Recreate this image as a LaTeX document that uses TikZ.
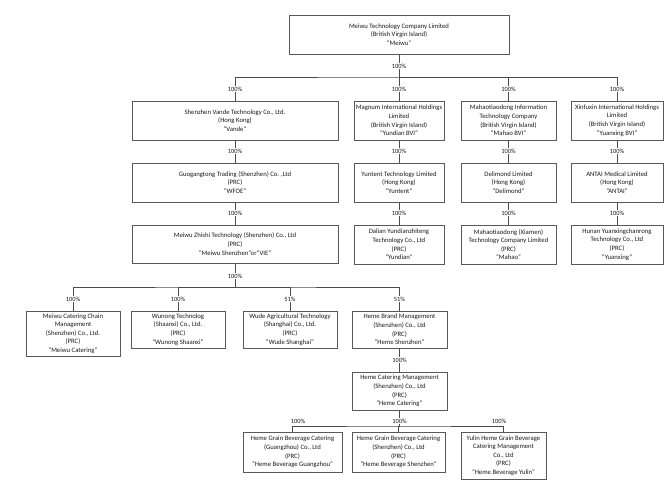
\documentclass[tikz,border=0pt]{standalone}
\usepackage{fontspec}
\setmainfont{Carlito}
\begin{document}
\begin{tikzpicture}[x=1pt,y=-1pt,
  box/.style={draw=black!65, line width=0.8pt, inner sep=0pt, align=center,
    font=\fontsize{6.7}{8.6}\selectfont, text=black!90},
  conn/.style={draw=black!70, line width=0.8pt},
  pct/.style={fill=white, inner sep=0.4pt, font=\fontsize{6.4}{7}\selectfont, text=black!90}]
\useasboundingbox (0,0) rectangle (670,487);
\newcommand{\bx}[6]{\node[box, minimum width={#3-#2}, minimum height={#5-#4}] (#1) at ({(#2+#3)/2},{(#4+#5)/2}) {#6};}
% boxes
\bx{top}{289}{509}{15}{54}{Meiwu Technology Company Limited\\(British Virgin Island)\\"Meiwu"}
\bx{vande}{132}{338}{101}{140}{Shenzhen Vande Technology Co., Ltd.\\(Hong Kong)\\"Vande"}
\bx{magnum}{354}{444}{101}{140}{Magnum International Holdings\\Limited\\(British Virgin Island)\\"Yundian BVI"}
\bx{mahaobvi}{461}{556}{101}{140}{Mahaotiaodong Information\\Technology Company\\(British Virgin Island)\\"Mahao BVI"}
\bx{xinfuxin}{571}{663}{101}{140}{Xinfuxin International Holdings\\Limited\\(British Virgin Island)\\"Yuanxing BVI"}
\bx{wfoe}{132}{338}{163}{202}{Guogangtong Trading (Shenzhen) Co. ,Ltd\\(PRC)\\"WFOE"}
\bx{yuntent}{354}{444}{163}{202}{Yuntent Technology Limited\\(Hong Kong)\\"Yuntent"}
\bx{delimond}{461}{556}{163}{202}{Delimond Limited\\(Hong Kong)\\"Delimond"}
\bx{antai}{571}{663}{163}{202}{ANTAI Medical Limited\\(Hong Kong)\\"ANTAI"}
\bx{vie}{132}{338}{225}{263}{Meiwu Zhishi Technology (Shenzhen) Co., Ltd\\(PRC)\\"Meiwu Shenzhen"or"VIE"}
\bx{yundian}{354}{444}{225}{264}{Dalian Yundianzhiteng\\Technology Co., Ltd\\(PRC)\\"Yundian"}
\bx{mahao}{461}{556}{225}{264}{Mahaotiaodong (Xiamen)\\Technology Company Limited\\(PRC)\\"Mahao"}
\bx{yuanxing}{571}{663}{225}{264}{Hunan Yuanxingchanrong\\Technology Co., Ltd\\(PRC)\\"Yuanxing"}
\bx{catering}{26}{120}{311}{356}{Meiwu Catering Chain\\Management\\(Shenzhen) Co., Ltd.\\(PRC)\\"Meiwu Catering"}
\bx{wunong}{131}{225}{311}{348}{Wunong Technolog\\(Shaanxi) Co., Ltd.\\(PRC)\\"Wunong Shaanxi"}
\bx{wude}{243}{337}{311}{348}{Wude Agricultural Technology\\(Shanghai) Co., Ltd.\\(PRC)\\"Wude Shanghai"}
\bx{hemesz}{352}{447}{311}{348}{Heme Brand Management\\(Shenzhen) Co., Ltd\\(PRC)\\"Heme Shenzhen"}
\bx{hemecat}{352}{447}{372}{410}{Heme Catering Management\\(Shenzhen) Co., Ltd\\(PRC)\\"Heme Catering"}
\bx{gz}{243}{342}{432}{472}{Heme Grain Beverage Catering\\(Guangzhou) Co., Ltd\\(PRC)\\"Heme Beverage Guangzhou"}
\bx{bsz}{352}{445}{432}{472}{Heme Grain Beverage Catering\\(Shenzhen) Co., Ltd\\(PRC)\\"Heme Beverage Shenzhen"}
\bx{yulin}{461}{546}{432}{479}{Yulin Heme Grain Beverage\\Catering Management\\Co., Ltd\\(PRC)\\"Heme Beverage Yulin"}
% junctions
\coordinate (j1) at (399,77);
\coordinate (j2) at (235,287);
\coordinate (j3) at (399.5,426);
% connectors
\draw[conn] (top.south) -- (j1);
\draw[conn] (vande.north) |- (j1) -| (xinfuxin.north);
\draw[conn] (j1) -| (magnum.north);
\draw[conn] (j1) -| (mahaobvi.north);
\draw[conn] (vande) -- (wfoe);
\draw[conn] (wfoe) -- (vie);
\draw[conn] (magnum) -- (yuntent);
\draw[conn] (yuntent) -- (yundian);
\draw[conn] (mahaobvi) -- (delimond);
\draw[conn] (delimond) -- (mahao);
\draw[conn] (xinfuxin) -- (antai);
\draw[conn] (antai) -- (yuanxing);
\draw[conn] (vie.south) -- (j2);
\draw[conn] (catering.north) |- (j2) -| (hemesz.north);
\draw[conn] (j2) -| (wunong.north);
\draw[conn] (j2) -| (wude.north);
\draw[conn] (hemesz) -- (hemecat);
\draw[conn] (hemecat.south) -- (j3);
\draw[conn] (gz.north) |- (j3) -| (yulin.north);
\draw[conn] (j3) -| (bsz.north);
% labels
\node[pct] (l0) at (399,66) {100\%};
\node[pct] (l1) at (235,89) {100\%};
\node[pct] (l2) at (399,89) {100\%};
\node[pct] (l3) at (508.5,89) {100\%};
\node[pct] (l4) at (617,89) {100\%};
\node[pct] (l5) at (235,151) {100\%};
\node[pct] (l6) at (399,151) {100\%};
\node[pct] (l7) at (508.5,151) {100\%};
\node[pct] (l8) at (617,151) {100\%};
\node[pct] (l9) at (235,213) {100\%};
\node[pct] (l10) at (399,213) {100\%};
\node[pct] (l11) at (508.5,213) {100\%};
\node[pct] (l12) at (617,213) {100\%};
\node[pct] (l13) at (235,276) {100\%};
\node[pct] (l14) at (73,299) {100\%};
\node[pct] (l15) at (178,299) {100\%};
\node[pct] (l16) at (290,299) {51\%};
\node[pct] (l17) at (399.5,299) {51\%};
\node[pct] (l18) at (399.5,360) {100\%};
\node[pct] (l19) at (298,421) {100\%};
\node[pct] (l20) at (399.5,421) {100\%};
\node[pct] (l21) at (499,421) {100\%};
\end{tikzpicture}
\end{document}
